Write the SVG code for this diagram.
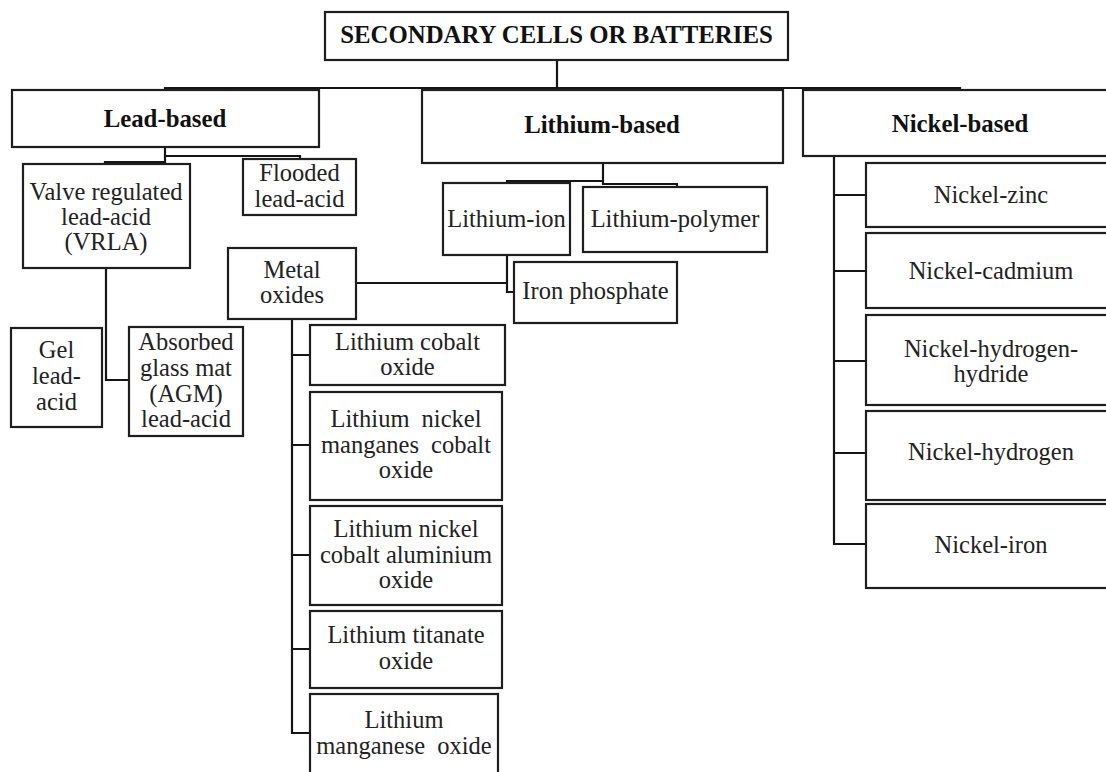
<svg xmlns="http://www.w3.org/2000/svg" width="1106" height="772" viewBox="0 0 1106 772">
<style>
  .box { fill: #ffffff; stroke: #1e1e1e; stroke-width: 2.2; }
  .t { font-family: "Liberation Serif", "Times New Roman", serif; font-size: 24.5px; fill: #222222; text-anchor: middle; }
  .b { font-family: "Liberation Serif", "Times New Roman", serif; font-size: 24.8px; font-weight: bold; fill: #111111; text-anchor: middle; }
  .conn { fill: none; stroke: #151515; stroke-width: 2.2; }
</style>
<rect width="1106" height="772" fill="#ffffff"/>

<g id="connectors">
  <path class="conn" d="M557 60 V88 M165 90 V88 H960 V90 M603 88 V90"/>
  <path class="conn" d="M165 147 V156 H300 V159 M165 156 V162 H105 V164"/>
  <path class="conn" d="M603 163 V181 H507 V183 M603 181 V184 H677 V187"/>
  <path class="conn" d="M507 255 V292 H514 M356 283 H507"/>
  <path class="conn" d="M106 268 V380 H129"/>
  <path class="conn" d="M292 319 V733 H310 M292 355 H310 M292 445 H310 M292 555 H310 M292 649 H310"/>
  <path class="conn" d="M834 156 V544 H866 M834 195 H866 M834 271 H866 M834 361 H866 M834 453 H866"/>
</g>

<g id="root">
  <rect class="box" x="325" y="12" width="463" height="48"/>
  <text class="b" x="556.5" y="43">SECONDARY CELLS OR BATTERIES</text>
</g>

<g id="lead-based">
  <rect class="box" x="12" y="90" width="307" height="57"/>
  <text class="b" x="165" y="127">Lead-based</text>
</g>
<g id="lithium-based">
  <rect class="box" x="422" y="90" width="361" height="73"/>
  <text class="b" x="602" y="133">Lithium-based</text>
</g>
<g id="nickel-based">
  <rect class="box" x="803" y="90" width="314" height="66"/>
  <text class="b" x="960" y="132">Nickel-based</text>
</g>

<g id="vrla">
  <rect class="box" x="23" y="164" width="167" height="104"/>
  <text class="t" x="106" y="200">Valve regulated</text>
  <text class="t" x="106" y="225">lead-acid</text>
  <text class="t" x="106" y="250">(VRLA)</text>
</g>
<g id="flooded">
  <rect class="box" x="243" y="159" width="113" height="56"/>
  <text class="t" x="299.5" y="181">Flooded</text>
  <text class="t" x="299.5" y="207">lead-acid</text>
</g>
<g id="gel">
  <rect class="box" x="11" y="328" width="91" height="99"/>
  <text class="t" x="56.5" y="358">Gel</text>
  <text class="t" x="56.5" y="384">lead-</text>
  <text class="t" x="56.5" y="410">acid</text>
</g>
<g id="agm">
  <rect class="box" x="129" y="327" width="114" height="109"/>
  <text class="t" x="186" y="350">Absorbed</text>
  <text class="t" x="186" y="376">glass mat</text>
  <text class="t" x="186" y="402">(AGM)</text>
  <text class="t" x="186" y="427">lead-acid</text>
</g>

<g id="lithium-ion">
  <rect class="box" x="443" y="183" width="127" height="72"/>
  <text class="t" x="506.5" y="227">Lithium-ion</text>
</g>
<g id="lithium-polymer">
  <rect class="box" x="583" y="187" width="184" height="65"/>
  <text class="t" x="675" y="227">Lithium-polymer</text>
</g>
<g id="iron-phosphate">
  <rect class="box" x="514" y="262" width="163" height="61"/>
  <text class="t" x="595.5" y="299">Iron phosphate</text>
</g>
<g id="metal-oxides">
  <rect class="box" x="228" y="248" width="128" height="71"/>
  <text class="t" x="292" y="278">Metal</text>
  <text class="t" x="292" y="303">oxides</text>
</g>

<g id="lco">
  <rect class="box" x="310" y="325" width="195" height="60"/>
  <text class="t" x="407.5" y="350">Lithium cobalt</text>
  <text class="t" x="407.5" y="375">oxide</text>
</g>
<g id="nmc">
  <rect class="box" x="310" y="392" width="192" height="108"/>
  <text class="t" x="406" y="427" word-spacing="6">Lithium nickel</text>
  <text class="t" x="406" y="453" word-spacing="6">manganes cobalt</text>
  <text class="t" x="406" y="478">oxide</text>
</g>
<g id="nca">
  <rect class="box" x="310" y="506" width="192" height="99"/>
  <text class="t" x="406" y="537">Lithium nickel</text>
  <text class="t" x="406" y="563">cobalt aluminium</text>
  <text class="t" x="406" y="588">oxide</text>
</g>
<g id="lto">
  <rect class="box" x="310" y="611" width="192" height="77"/>
  <text class="t" x="406" y="643">Lithium titanate</text>
  <text class="t" x="406" y="669">oxide</text>
</g>
<g id="lmo">
  <rect class="box" x="310" y="694" width="188" height="90"/>
  <text class="t" x="404" y="728">Lithium</text>
  <text class="t" x="404" y="754" word-spacing="6">manganese oxide</text>
</g>

<g id="nickel-zinc">
  <rect class="box" x="866" y="163" width="250" height="64"/>
  <text class="t" x="991" y="203">Nickel-zinc</text>
</g>
<g id="nickel-cadmium">
  <rect class="box" x="866" y="233" width="250" height="75"/>
  <text class="t" x="991" y="279">Nickel-cadmium</text>
</g>
<g id="nickel-hydrogen-hydride">
  <rect class="box" x="866" y="315" width="250" height="90"/>
  <text class="t" x="991" y="357">Nickel-hydrogen-</text>
  <text class="t" x="991" y="382">hydride</text>
</g>
<g id="nickel-hydrogen">
  <rect class="box" x="866" y="411" width="250" height="89"/>
  <text class="t" x="991" y="460">Nickel-hydrogen</text>
</g>
<g id="nickel-iron">
  <rect class="box" x="866" y="504" width="250" height="84"/>
  <text class="t" x="991" y="553">Nickel-iron</text>
</g>
</svg>
